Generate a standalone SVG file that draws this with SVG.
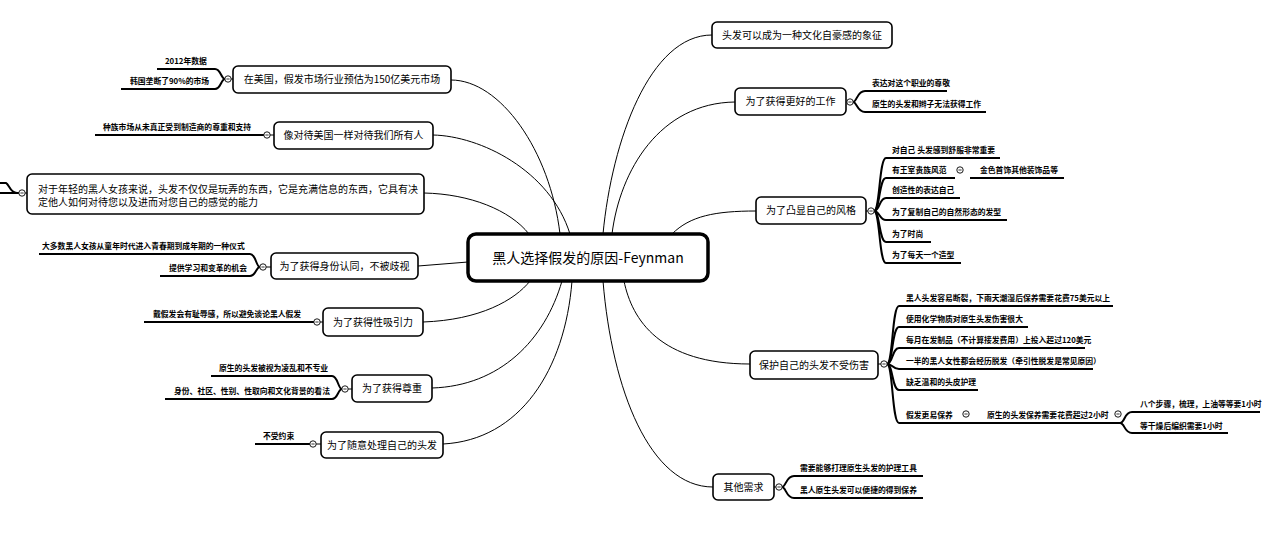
<svg xmlns="http://www.w3.org/2000/svg" width="1280" height="542" viewBox="0 0 1280 542">
<defs>
<style>
.bg{fill:#fff}
.box{fill:#fff;stroke:#000;stroke-width:1.6}
.main{fill:#fff;stroke:#000;stroke-width:3.5}
.t1{font-family:"Noto Sans CJK SC","Noto Sans",sans-serif;font-size:10px;fill:#000;text-anchor:middle}
.tb{font-family:"Noto Sans CJK SC","Noto Sans",sans-serif;font-size:10px;fill:#000}
.tm{font-family:"Noto Sans CJK SC","Noto Sans",sans-serif;font-size:14px;fill:#000;text-anchor:middle}
.t2{font-family:"Noto Sans CJK SC","Noto Sans",sans-serif;font-size:7.8px;font-weight:bold;fill:#000}
.c{fill:none;stroke:#000;stroke-width:1}
.u{fill:none;stroke:#000;stroke-width:2}
.k{fill:#fff;stroke:#000;stroke-width:0.9}
</style>
<g id="knob"><circle class="k" cx="0" cy="0" r="3.2"/><line x1="-1.6" y1="0" x2="1.6" y2="0" stroke="#000" stroke-width="0.8"/></g>
</defs>
<rect class="bg" x="0" y="0" width="1280" height="542"/>

<g id="connectors">
<path class="c" d="M451,80 C500,80 550,150 560,234"/>
<path class="c" d="M433,135 C480,136 550,170 570,234"/>
<path class="c" d="M424,193 C470,194 510,210 529,234"/>
<path class="c" d="M418,266 L468,262"/>
<path class="c" d="M530,281 C515,300 480,320 423,322"/>
<path class="c" d="M562,281 C545,340 500,386 432,388"/>
<path class="c" d="M572,281 C565,370 520,440 443,444"/>
<path class="c" d="M603,234 C612,140 650,35 712,35"/>
<path class="c" d="M612,234 C620,170 660,103 735,102"/>
<path class="c" d="M672,234 C690,216 715,211 756,211"/>
<path class="c" d="M624,281 C632,320 660,364 750,364"/>
<path class="c" d="M603,281 C612,390 650,487 713,487"/>
<!-- node to knob stubs -->
<path class="c" d="M231,79 L233,79 M270,135 L274,135 M25,193 L27,193 M266,267 L271,267 M320,322 L323,322 M348,389 L352,389 M316,444 L321,444 M846,102 L847,102 M866,211 L868,211 M878,364 L881,364 M774,487 L776,487"/>
<!-- left child lines -->
<path class="u" d="M225,79 C221,79 221,69 215,69 L157,69"/>
<path class="u" d="M225,79 C221,79 221,89 215,89 L121,89"/>
<path class="u" d="M264,135 L95,135"/>
<path class="u" d="M19,193 L0,193"/>
<path class="u" d="M17,193 C10,193 9,184 6,183 L0,183"/>
<path class="u" d="M260,267 C256,267 256,254 250,254 L39,254"/>
<path class="u" d="M260,267 C256,267 256,276 250,276 L160,276"/>
<path class="u" d="M314,322 L144,322"/>
<path class="u" d="M342,389 C338,389 338,376 332,376 L211,376"/>
<path class="u" d="M342,389 C338,389 338,399 332,399 L165,399"/>
<path class="u" d="M310,444 L255,444"/>
<!-- right child lines -->
<path class="u" d="M853,102 C857,102 857,91 865,91 L947,91"/>
<path class="u" d="M853,102 C857,102 857,112 865,112 L986,112"/>
<path class="u" d="M874,211 C880,211 879,158 886,158 L1000,158"/>
<path class="u" d="M874,211 C880,211 879,178 886,178 L955,178"/>
<path class="u" d="M970,178 L1064,178"/>
<path class="u" d="M874,211 C880,211 879,198 886,198 L960,198"/>
<path class="u" d="M874,211 C880,211 879,220 886,220 L1007,220"/>
<path class="u" d="M874,211 C880,211 879,242 886,242 L931,242"/>
<path class="u" d="M874,211 C880,211 879,263 886,263 L961,263"/>
<path class="u" d="M887,364 C893,364 892,306 899,306 L1113,306"/>
<path class="u" d="M887,364 C893,364 892,327 899,327 L1028,327"/>
<path class="u" d="M887,364 C893,364 892,348 899,348 L1085,348"/>
<path class="u" d="M887,364 C893,364 892,369 899,369 L1093,369"/>
<path class="u" d="M887,364 C893,364 892,390 899,390 L978,390"/>
<path class="u" d="M887,364 C893,364 892,423 899,423 L1120,423"/>
<path class="u" d="M1120,423 C1125,423 1124,412 1132,412 L1260,412"/>
<path class="u" d="M1120,423 C1125,423 1124,433 1132,433 L1228,433"/>
<path class="u" d="M782,487 C786,487 786,476 794,476 L923,476"/>
<path class="u" d="M782,487 C786,487 786,498 794,498 L923,498"/>
</g>

<g id="center">
<rect class="main" x="468" y="234" width="240" height="47" rx="8"/>
<text class="tm" x="588" y="263">黑人选择假发的原因-Feynman</text>
</g>

<g id="n-market">
<rect class="box" x="233" y="66" width="218" height="27" rx="5"/>
<text class="t1" x="342" y="83">在美国，假发市场行业预估为150亿美元市场</text>
<use href="#knob" x="228" y="79"/>
</g>
<g id="n-market-c1"><text class="t2" x="165" y="64">2012年数据</text></g>
<g id="n-market-c2"><text class="t2" x="130" y="84">韩国垄断了90%的市场</text></g>

<g id="n-treat">
<rect class="box" x="274" y="122" width="159" height="27" rx="5"/>
<text class="t1" x="353.5" y="139">像对待美国一样对待我们所有人</text>
<use href="#knob" x="267" y="135"/>
</g>
<g id="n-treat-c1"><text class="t2" x="103" y="130">种族市场从未真正受到制造商的尊重和支持</text></g>

<g id="n-girls">
<rect class="box" x="27" y="174" width="397" height="40" rx="5"/>
<text class="tb" x="38" y="192.5">对于年轻的黑人女孩来说，头发不仅仅是玩弄的东西，它是充满信息的东西，它具有决</text>
<text class="tb" x="38" y="205.5">定他人如何对待您以及进而对您自己的感觉的能力</text>
<use href="#knob" x="22" y="193"/>
</g>

<g id="n-identity">
<rect class="box" x="271" y="253" width="147" height="26" rx="5"/>
<text class="t1" x="344.5" y="269.5">为了获得身份认同，不被歧视</text>
<use href="#knob" x="263" y="267"/>
</g>
<g id="n-identity-c1"><text class="t2" x="42" y="249">大多数黑人女孩从童年时代进入青春期到成年期的一种仪式</text></g>
<g id="n-identity-c2"><text class="t2" x="169" y="271">提供学习和变革的机会</text></g>

<g id="n-attract">
<rect class="box" x="323" y="308" width="100" height="28" rx="5"/>
<text class="t1" x="373" y="325.5">为了获得性吸引力</text>
<use href="#knob" x="317" y="322"/>
</g>
<g id="n-attract-c1"><text class="t2" x="153" y="317">戴假发会有耻辱感，所以避免谈论黑人假发</text></g>

<g id="n-respect">
<rect class="box" x="352" y="375" width="80" height="27" rx="5"/>
<text class="t1" x="392" y="392">为了获得尊重</text>
<use href="#knob" x="345" y="389"/>
</g>
<g id="n-respect-c1"><text class="t2" x="219" y="371">原生的头发被视为凌乱和不专业</text></g>
<g id="n-respect-c2"><text class="t2" x="174" y="394">身份、社区、性别、性取向和文化背景的看法</text></g>

<g id="n-free">
<rect class="box" x="321" y="432" width="122" height="26" rx="5"/>
<text class="t1" x="382" y="448.5">为了随意处理自己的头发</text>
<use href="#knob" x="313" y="444"/>
</g>
<g id="n-free-c1"><text class="t2" x="263" y="439">不受约束</text></g>

<g id="n-pride">
<rect class="box" x="712" y="22" width="180" height="26" rx="5"/>
<text class="t1" x="802" y="38.5">头发可以成为一种文化自豪感的象征</text>
</g>

<g id="n-job">
<rect class="box" x="735" y="88" width="111" height="27" rx="5"/>
<text class="t1" x="790.5" y="105">为了获得更好的工作</text>
<use href="#knob" x="850" y="102"/>
</g>
<g id="n-job-c1"><text class="t2" x="872" y="86">表达对这个职业的尊敬</text></g>
<g id="n-job-c2"><text class="t2" x="872" y="107">原生的头发和辫子无法获得工作</text></g>

<g id="n-style">
<rect class="box" x="756" y="197" width="110" height="27" rx="5"/>
<text class="t1" x="811" y="214">为了凸显自己的风格</text>
<use href="#knob" x="871" y="211"/>
</g>
<g id="n-style-c1"><text class="t2" x="892" y="153">对自己 头发感到舒服非常重要</text></g>
<g id="n-style-c2"><text class="t2" x="892" y="173">有王室贵族风范</text><use href="#knob" x="960" y="170"/></g>
<g id="n-style-c2a"><text class="t2" x="980" y="173">金色首饰其他装饰品等</text></g>
<g id="n-style-c3"><text class="t2" x="892" y="193">创造性的表达自己</text></g>
<g id="n-style-c4"><text class="t2" x="892" y="215">为了复制自己的自然形态的发型</text></g>
<g id="n-style-c5"><text class="t2" x="892" y="237">为了时尚</text></g>
<g id="n-style-c6"><text class="t2" x="892" y="258">为了每天一个造型</text></g>

<g id="n-protect">
<rect class="box" x="750" y="351" width="128" height="28" rx="5"/>
<text class="t1" x="814" y="368.5">保护自己的头发不受伤害</text>
<use href="#knob" x="884" y="364"/>
</g>
<g id="n-protect-c1"><text class="t2" x="906" y="301">黑人头发容易断裂，下雨天潮湿后保养需要花费75美元以上</text></g>
<g id="n-protect-c2"><text class="t2" x="906" y="322">使用化学物质对原生头发伤害很大</text></g>
<g id="n-protect-c3"><text class="t2" x="906" y="343">每月在发制品（不计算接发费用）上投入超过120美元</text></g>
<g id="n-protect-c4"><text class="t2" x="906" y="364">一半的黑人女性都会经历脱发（牵引性脱发是常见原因）</text></g>
<g id="n-protect-c5"><text class="t2" x="906" y="385">缺乏温和的头皮护理</text></g>
<g id="n-protect-c6"><text class="t2" x="906" y="418">假发更易保养</text><use href="#knob" x="966" y="414"/></g>
<g id="n-protect-c6a"><text class="t2" x="987" y="418">原生的头发保养需要花费超过2小时</text><use href="#knob" x="1118" y="414"/></g>
<g id="n-protect-c6a1"><text class="t2" x="1140" y="407">八个步骤，梳理，上油等等要1小时</text></g>
<g id="n-protect-c6a2"><text class="t2" x="1140" y="429">等干燥后编织需要1小时</text></g>

<g id="n-other">
<rect class="box" x="713" y="474" width="61" height="26" rx="5"/>
<text class="t1" x="743.5" y="490.5">其他需求</text>
<use href="#knob" x="779" y="487"/>
</g>
<g id="n-other-c1"><text class="t2" x="800" y="471">需要能够打理原生头发的护理工具</text></g>
<g id="n-other-c2"><text class="t2" x="800" y="493">黑人原生头发可以便捷的得到保养</text></g>
</svg>
